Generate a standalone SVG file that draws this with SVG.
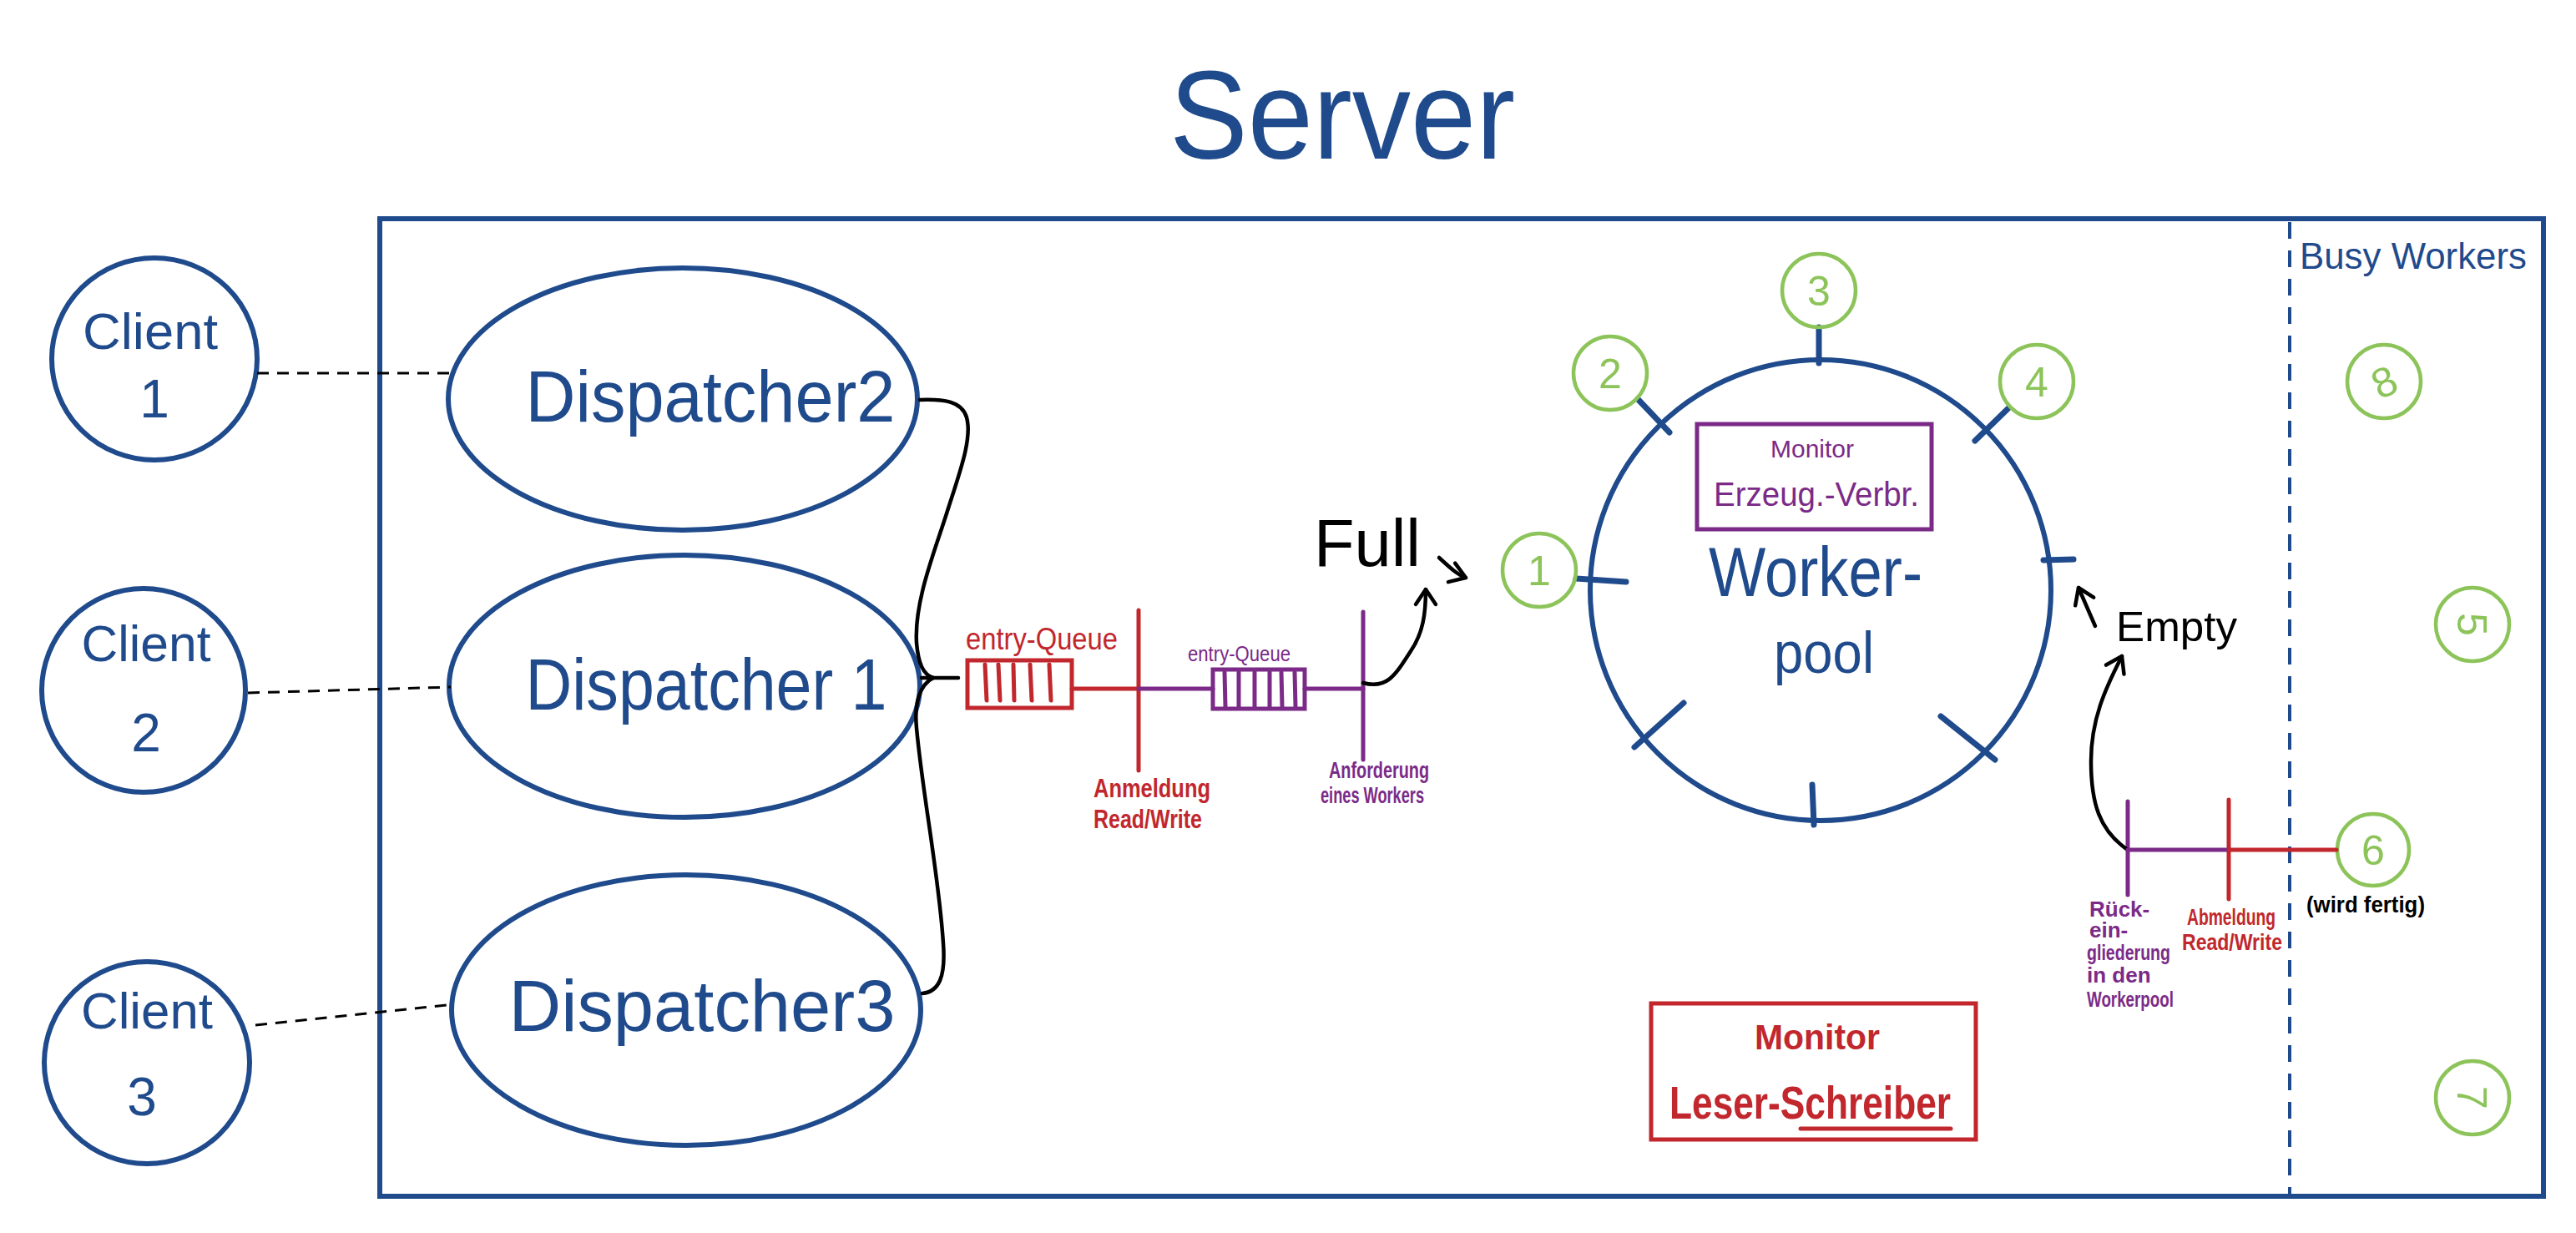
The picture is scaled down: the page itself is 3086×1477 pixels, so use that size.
<svg xmlns="http://www.w3.org/2000/svg" width="3086" height="1477" viewBox="0 0 3086 1477">
<defs>
<marker id="arr" markerUnits="userSpaceOnUse" markerWidth="40" markerHeight="40" viewBox="-25 -20 30 40" refX="0" refY="0" orient="auto">
<path d="M-18,-12 L0,0 L-18,12" fill="none" stroke="#000" stroke-width="4.5" stroke-linecap="round" stroke-linejoin="round"/>
</marker>
</defs>
<style>
text{font-family:"Liberation Sans","Noto Sans",Arial,sans-serif;}
.blue{fill:none;stroke:#1f4a8c;stroke-width:6;}
.btxt{fill:#1f4a8c;}
.green{fill:none;stroke:#8cc45a;stroke-width:4.5;}
.gtxt{fill:#8cc45a;font-size:50px;text-anchor:middle;}
.red{stroke:#c1272d;stroke-width:5;fill:none;stroke-linecap:round;}
.rtxt{fill:#c1272d;}
.pur{stroke:#7b2b87;stroke-width:5;fill:none;stroke-linecap:round;}
.ptxt{fill:#7b2b87;}
.tick{stroke:#1f4a8c;stroke-width:7;stroke-linecap:round;}
.dash{stroke:#000;stroke-width:3;stroke-dasharray:14 10;fill:none;}
.blk{stroke:#000;stroke-width:4.5;fill:none;stroke-linecap:round;stroke-linejoin:round;}
</style>
<rect width="3086" height="1477" fill="#fff"/>

<g id="title"><text x="1608" y="190" class="btxt" font-size="150" text-anchor="middle" textLength="414" lengthAdjust="spacingAndGlyphs">Server</text></g>

<g id="server">
<rect x="455" y="262" width="2592" height="1171" class="blue"/>
<line x1="2743" y1="266" x2="2743" y2="1430" stroke="#1f4a8c" stroke-width="4" stroke-dasharray="20 14"/>
<text x="2755" y="322" class="btxt" font-size="44" textLength="272" lengthAdjust="spacingAndGlyphs">Busy Workers</text>
</g>

<g id="client1"><ellipse cx="185" cy="430" rx="123" ry="121" class="blue" stroke-width="5"/>
<text x="180" y="418" class="btxt" font-size="62" text-anchor="middle" textLength="162" lengthAdjust="spacingAndGlyphs">Client</text>
<text x="185" y="500" class="btxt" font-size="64" text-anchor="middle">1</text></g>
<g id="client2"><ellipse cx="172" cy="827" rx="122" ry="122" class="blue" stroke-width="5"/>
<text x="175" y="792" class="btxt" font-size="62" text-anchor="middle" textLength="155" lengthAdjust="spacingAndGlyphs">Client</text>
<text x="175" y="900" class="btxt" font-size="64" text-anchor="middle">2</text></g>
<g id="client3"><ellipse cx="176" cy="1273" rx="123" ry="121" class="blue" stroke-width="5"/>
<text x="176" y="1232" class="btxt" font-size="62" text-anchor="middle" textLength="158" lengthAdjust="spacingAndGlyphs">Client</text>
<text x="170" y="1336" class="btxt" font-size="64" text-anchor="middle">3</text></g>

<g id="dispatcher2"><ellipse cx="818" cy="478" rx="281" ry="157" class="blue"/>
<text x="851" y="505" class="btxt" font-size="88" text-anchor="middle" textLength="443" lengthAdjust="spacingAndGlyphs">Dispatcher2</text></g>
<g id="dispatcher1"><ellipse cx="820" cy="822" rx="282" ry="157" class="blue"/>
<text x="846" y="850" class="btxt" font-size="88" text-anchor="middle" textLength="433" lengthAdjust="spacingAndGlyphs">Dispatcher 1</text></g>
<g id="dispatcher3"><ellipse cx="822" cy="1210" rx="281" ry="162" class="blue"/>
<text x="841" y="1235" class="btxt" font-size="88" text-anchor="middle" textLength="463" lengthAdjust="spacingAndGlyphs">Dispatcher3</text></g>

<g id="workerpool">
<circle cx="2181" cy="707" r="276" class="blue"/>
<rect x="2033" y="508" width="281" height="126" class="pur" stroke-width="7" stroke-linecap="butt"/>
<text x="2171" y="548" class="ptxt" font-size="30" text-anchor="middle">Monitor</text>
<text x="2176" y="606" class="ptxt" font-size="40" text-anchor="middle" textLength="246" lengthAdjust="spacingAndGlyphs">Erzeug.-Verbr.</text>
<text x="2175" y="714" class="btxt" font-size="84" text-anchor="middle" textLength="256" lengthAdjust="spacingAndGlyphs">Worker-</text>
<text x="2185" y="806" class="btxt" font-size="70" text-anchor="middle" textLength="120" lengthAdjust="spacingAndGlyphs">pool</text>
<line x1="2179" y1="435" x2="2179" y2="392" class="tick"/>
<line x1="2000" y1="518" x2="1962" y2="478" class="tick"/>
<line x1="2366" y1="528" x2="2406" y2="489" class="tick"/>
<line x1="1888" y1="693" x2="1948" y2="697" class="tick"/>
<line x1="2448" y1="671" x2="2484" y2="670" class="tick"/>
<line x1="2325" y1="858" x2="2390" y2="910" class="tick"/>
<line x1="2171" y1="940" x2="2173" y2="988" class="tick"/>
<line x1="1958" y1="895" x2="2017" y2="842" class="tick"/>
</g>

<g id="worker1"><circle cx="1844" cy="683" r="44" class="green"/><text x="1844" y="701" class="gtxt">1</text></g>
<g id="worker2"><circle cx="1929" cy="447" r="44" class="green"/><text x="1929" y="465" class="gtxt">2</text></g>
<g id="worker3"><circle cx="2179" cy="348" r="44" class="green"/><text x="2179" y="366" class="gtxt">3</text></g>
<g id="worker4"><circle cx="2440" cy="457" r="44" class="green"/><text x="2440" y="475" class="gtxt">4</text></g>
<g id="worker8"><circle cx="2856" cy="457" r="44" class="green"/><text x="2856" y="475" class="gtxt" transform="rotate(-25 2856 457)">8</text></g>
<g id="worker5"><circle cx="2962" cy="748" r="44" class="green"/><text x="2962" y="766" class="gtxt" transform="rotate(90 2962 748)">5</text></g>
<g id="worker6"><circle cx="2843" cy="1018" r="43" class="green"/><text x="2843" y="1036" class="gtxt">6</text>
<text x="2834" y="1093" font-size="28" fill="#000" text-anchor="middle" font-weight="bold" textLength="142" lengthAdjust="spacingAndGlyphs">(wird fertig)</text></g>
<g id="worker7"><circle cx="2962" cy="1315" r="44" class="green"/><text x="2962" y="1333" class="gtxt" transform="rotate(90 2962 1315)">7</text></g>

<g id="entryqueue1">
<rect x="1159" y="791" width="125" height="57" class="red" stroke-width="4" stroke-linecap="butt"/>
<path d="M1180,796 L1182,839 M1196,796 L1198,839 M1214,796 L1215,839 M1234,796 L1236,839 M1257,796 L1259,839" class="red" stroke-width="4"/>
<text x="1157" y="778" class="rtxt" font-size="36" textLength="182" lengthAdjust="spacingAndGlyphs">entry-Queue</text>
</g>
<g id="entryqueue2">
<rect x="1453" y="802" width="110" height="47" class="pur" stroke-width="4" stroke-linecap="butt"/>
<path d="M1467,805 L1468,847 M1484,805 L1484,847 M1503,805 L1503,847 M1521,805 L1521,847 M1535,805 L1536,847 M1551,805 L1552,847" class="pur" stroke-width="4"/>
<text x="1423" y="792" class="ptxt" font-size="26" textLength="123" lengthAdjust="spacingAndGlyphs">entry-Queue</text>
</g>
<g id="anmeldung">
<line x1="1364" y1="731" x2="1364" y2="923" class="red" stroke-width="6"/>
<text x="1310" y="955" class="rtxt" font-size="32" font-weight="bold" textLength="140" lengthAdjust="spacingAndGlyphs">Anmeldung</text>
<text x="1310" y="992" class="rtxt" font-size="32" font-weight="bold" textLength="130" lengthAdjust="spacingAndGlyphs">Read/Write</text>
</g>
<g id="anforderung">
<line x1="1633" y1="733" x2="1633" y2="910" class="pur" stroke-width="6"/>
<text x="1592" y="932" class="ptxt" font-size="28" font-weight="bold" textLength="120" lengthAdjust="spacingAndGlyphs">Anforderung</text>
<text x="1582" y="962" class="ptxt" font-size="28" font-weight="bold" textLength="124" lengthAdjust="spacingAndGlyphs">eines Workers</text>
</g>
<g id="rueckeingliederung">
<line x1="2549" y1="960" x2="2549" y2="1072" class="pur" stroke-width="6"/>
<text class="ptxt" font-size="26" font-weight="bold"><tspan x="2503" y="1098">Rück-</tspan><tspan x="2503" y="1123">ein-</tspan><tspan x="2500" y="1150" textLength="100" lengthAdjust="spacingAndGlyphs">gliederung</tspan><tspan x="2500" y="1177">in den</tspan><tspan x="2500" y="1206" textLength="104" lengthAdjust="spacingAndGlyphs">Workerpool</tspan></text>
</g>
<g id="abmeldung">
<line x1="2670" y1="958" x2="2670" y2="1077" class="red" stroke-width="6"/>
<text x="2620" y="1108" class="rtxt" font-size="28" font-weight="bold" textLength="106" lengthAdjust="spacingAndGlyphs">Abmeldung</text>
<text x="2614" y="1138" class="rtxt" font-size="28" font-weight="bold" textLength="120" lengthAdjust="spacingAndGlyphs">Read/Write</text>
</g>
<g id="monitor-ls">
<rect x="1978" y="1202" width="389" height="163" class="red" stroke-width="6" stroke-linecap="butt"/>
<text x="2177" y="1257" class="rtxt" font-size="42" font-weight="bold" text-anchor="middle" textLength="150" lengthAdjust="spacingAndGlyphs">Monitor</text>
<text x="2000" y="1340" class="rtxt" font-size="55" font-weight="bold" textLength="337" lengthAdjust="spacingAndGlyphs">Leser-Schreiber</text>
<line x1="2157" y1="1352" x2="2337" y2="1352" class="red" stroke-width="5"/>
</g>

<g id="labels">
<text x="1574" y="678" font-size="80" fill="#000" textLength="128" lengthAdjust="spacingAndGlyphs">Full</text>
<text x="2535" y="768" font-size="50" fill="#000" textLength="145" lengthAdjust="spacingAndGlyphs">Empty</text>
</g>

<g id="connectors">
<path d="M308,447 L540,447" class="dash"/>
<path d="M297,830 L540,823" class="dash"/>
<path d="M306,1228 L544,1203" class="dash"/>
<path d="M1102,479 C1130,478 1152,480 1158,500 C1165,525 1150,565 1135,612 C1120,660 1095,720 1098,770 C1100,795 1106,808 1118,812" class="blk" stroke-width="4"/>
<path d="M1118,812 C1102,820 1095,842 1098,872 C1105,950 1125,1050 1130,1130 C1133,1170 1125,1188 1105,1190" class="blk" stroke-width="4"/>
<path d="M1104,812 L1148,812" class="blk" stroke-width="4"/>
<path d="M1284,825 L1364,825" class="red" stroke-width="4"/>
<path d="M1364,825 L1453,825" class="pur" stroke-width="4"/>
<path d="M1563,825 L1633,825" class="pur" stroke-width="4"/>
<path d="M1633,818 C1662,826 1672,808 1690,780 C1705,758 1708,735 1708,706" class="blk" marker-end="url(#arr)"/>
<path d="M1724,668 C1735,678 1745,688 1756,692" class="blk" marker-end="url(#arr)"/>
<path d="M2510,750 L2490,704" class="blk" marker-end="url(#arr)"/>
<path d="M2549,1018 C2515,995 2505,962 2505,912 C2505,862 2522,825 2542,786" class="blk" marker-end="url(#arr)"/>
<path d="M2549,1018 L2670,1018" class="pur" stroke-width="4"/>
<path d="M2670,1018 L2799,1018" class="red" stroke-width="4"/>
</g>
</svg>
